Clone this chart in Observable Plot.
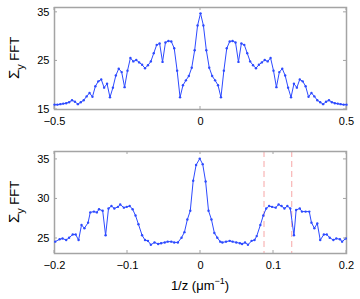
<!DOCTYPE html>
<html><head><meta charset="utf-8">
<script src="https://cdn.jsdelivr.net/npm/d3@7"></script>
<script src="https://cdn.jsdelivr.net/npm/@observablehq/plot@0.6"></script>
<style>
body{margin:0;background:#fff;}
#wrap{position:relative;width:360px;height:299px;}
#wrap svg{position:absolute;left:0;}
</style></head><body><div id="wrap"></div>
<script>
// ---- data ----
const topX = [-0.50,-0.49,-0.48,-0.47,-0.46,-0.45,-0.44,-0.43,-0.42,-0.41,-0.40,-0.39,-0.38,-0.37,-0.36,-0.35,-0.34,-0.33,-0.32,-0.31,-0.30,-0.29,-0.28,-0.27,-0.26,-0.25,-0.24,-0.23,-0.22,-0.21,-0.20,-0.19,-0.18,-0.17,-0.16,-0.15,-0.14,-0.13,-0.12,-0.11,-0.10,-0.09,-0.08,-0.07,-0.06,-0.05,-0.04,-0.03,-0.02,-0.01,0.00,0.01,0.02,0.03,0.04,0.05,0.06,0.07,0.08,0.09,0.10,0.11,0.12,0.13,0.14,0.15,0.16,0.17,0.18,0.19,0.20,0.21,0.22,0.23,0.24,0.25,0.26,0.27,0.28,0.29,0.30,0.31,0.32,0.33,0.34,0.35,0.36,0.37,0.38,0.39,0.40,0.41,0.42,0.43,0.44,0.45,0.46,0.47,0.48,0.49,0.50];
const topY = [16.0,16.0,16.1,16.2,16.3,16.5,16.9,16.6,16.1,16.5,16.9,17.7,18.4,17.6,19.8,20.8,21.2,19.5,20.3,17.5,19.5,22.0,23.4,22.7,19.6,23.0,25.6,24.9,25.2,24.7,24.2,23.5,24.1,24.9,26.6,28.3,28.6,24.8,28.8,29.1,29.0,27.6,23.0,17.5,20.0,21.0,21.9,23.6,27.2,32.3,34.8,32.3,27.2,23.6,21.9,21.0,20.0,17.5,23.0,27.6,29.0,29.1,28.8,24.8,28.6,28.3,26.6,24.9,24.1,23.5,24.2,24.7,25.2,24.9,25.6,23.0,19.6,22.7,23.4,22.0,19.5,17.5,20.3,19.5,21.2,20.8,19.8,17.6,18.4,17.7,16.9,16.5,16.1,16.6,16.9,16.5,16.3,16.2,16.1,16.0,16.0];

const botX = [-0.199,-0.193,-0.189,-0.184,-0.180,-0.175,-0.171,-0.167,-0.163,-0.159,-0.154,-0.151,-0.146,-0.142,-0.139,-0.134,-0.130,-0.126,-0.122,-0.118,-0.113,-0.110,-0.105,-0.101,-0.097,-0.093,-0.089,-0.085,-0.080,-0.076,-0.072,-0.068,-0.063,-0.058,-0.054,-0.049,-0.045,-0.040,-0.036,-0.031,-0.026,-0.022,-0.018,-0.014,-0.010,-0.006,-0.001,0.003,0.007,0.011,0.015,0.019,0.023,0.027,0.030,0.035,0.040,0.044,0.049,0.054,0.057,0.061,0.065,0.070,0.074,0.077,0.082,0.086,0.090,0.094,0.098,0.103,0.107,0.111,0.115,0.119,0.123,0.128,0.131,0.136,0.139,0.144,0.149,0.152,0.156,0.160,0.164,0.169,0.173,0.177,0.182,0.186,0.191,0.194,0.199];
const botY = [24.6,24.9,25.0,24.8,25.1,25.5,25.5,24.8,26.7,26.3,27.0,28.3,28.4,28.3,28.7,28.5,25.4,28.8,29.1,28.8,29.0,29.3,28.9,29.0,29.1,28.7,27.9,26.8,25.4,24.8,24.7,24.2,24.5,24.3,24.4,24.5,24.6,24.6,24.5,24.5,25.1,25.8,27.4,28.5,32.3,34.3,35.1,34.4,32.2,28.5,27.4,25.7,25.1,24.6,24.5,24.6,24.7,24.6,24.5,24.4,24.3,24.5,24.2,24.7,24.8,25.3,26.7,27.9,28.8,29.1,29.0,28.9,29.3,29.1,28.8,29.1,28.8,25.4,28.6,28.8,28.4,28.4,28.4,27.0,26.3,26.9,24.8,25.5,25.5,25.1,24.8,25.0,24.9,24.6,25.0];

const topXTicks = [-0.5, 0, 0.5];
const topYTicks = [15, 25, 35];
const botXTicks = [-0.2, -0.1, 0, 0.1, 0.2];
const botYTicks = [25, 30, 35];
const markerX = [0.087, 0.125];
const yLabelMain = "Σ", yLabelSub = "y", yLabelRest = " FFT";
const xLabelMain = "1/z (μm", xLabelSup = "−1", xLabelEnd = ")";

// ---- style ----
const FONT = '"Liberation Sans", Arial, Helvetica, sans-serif';
const BLUE = "#2d4aff";
const FRAME = "#a4a4a4";
const DASH = "#f7a6a6";

const topData = topX.map((x, i) => ({x, y: topY[i]}));
const botData = botX.map((x, i) => ({x, y: botY[i]}));

function panel({data, height, mt, mb, xdom, ydom, xt, yt, extra = []}) {
  return Plot.plot({
    width: 360, height, marginTop: mt, marginBottom: mb, marginLeft: 54, marginRight: 14,
    style: {fontFamily: FONT, fontSize: "11px", color: "#000", background: "transparent", overflow: "visible"},
    x: {domain: xdom},
    y: {domain: ydom},
    marks: [
      ...extra,
      Plot.frame({stroke: FRAME, strokeWidth: 1.5}),
      Plot.axisX(xt, {tickSize: 0, tickPadding: 8, label: null, fontSize: 11, tickFormat: d3.format("")}),
      Plot.axisY(yt, {tickSize: 0, tickPadding: 5, label: null, fontSize: 11}),
      Plot.line(data, {x: "x", y: "y", stroke: BLUE, strokeWidth: 1}),
      Plot.dot(data, {x: "x", y: "y", r: 1.2, fill: BLUE, stroke: null})
    ]
  });
}

function boxTicks(chart, xt, yt) {
  const sx = chart.scale("x"), sy = chart.scale("y");
  const [x0, x1] = sx.range, [y0, y1] = sy.range;
  const g = d3.select(chart).append("g").attr("stroke", FRAME).attr("stroke-width", 1);
  const L = 3;
  for (const t of xt) {
    const p = sx.apply(t);
    g.append("line").attr("x1", p).attr("x2", p).attr("y1", y0).attr("y2", y0 - L);
    g.append("line").attr("x1", p).attr("x2", p).attr("y1", y1).attr("y2", y1 + L);
  }
  for (const t of yt) {
    const p = sy.apply(t);
    g.append("line").attr("y1", p).attr("y2", p).attr("x1", x0).attr("x2", x0 + L);
    g.append("line").attr("y1", p).attr("y2", p).attr("x1", x1).attr("x2", x1 - L);
  }
  // y label
  const cy = (y0 + y1) / 2;
  const t = d3.select(chart).append("text")
    .attr("transform", `translate(19,${cy}) rotate(-90)`)
    .attr("text-anchor", "middle")
    .attr("font-family", FONT).attr("font-size", 13).attr("fill", "#000");
  t.append("tspan").attr("font-size", 15).text(yLabelMain);
  t.append("tspan").attr("font-size", 11).attr("dy", 5).text(yLabelSub);
  t.append("tspan").attr("dy", -5).text(yLabelRest);
}

const p1 = panel({data: topData, height: 140, mt: 7, mb: 31, xdom: [-0.5, 0.5], ydom: [15, 36], xt: topXTicks, yt: topYTicks});
const p2 = panel({data: botData, height: 159, mt: 11, mb: 46, xdom: [-0.2, 0.2], ydom: [23.1, 36], xt: botXTicks, yt: botYTicks,
  extra: [Plot.ruleX(markerX, {stroke: DASH, strokeWidth: 1, strokeDasharray: "6,4"})]});

boxTicks(p1, topXTicks, topYTicks);
boxTicks(p2, botXTicks, botYTicks);

// x label on bottom panel
const xl = d3.select(p2).append("text")
  .attr("x", 200).attr("y", 150).attr("text-anchor", "middle")
  .attr("font-family", FONT).attr("font-size", 13).attr("fill", "#000");
xl.append("tspan").text(xLabelMain);
xl.append("tspan").attr("font-size", 9).attr("dy", -6).text(xLabelSup);
xl.append("tspan").attr("dy", 6).text(xLabelEnd);

p1.style.top = "0px";
p2.style.top = "140px";
const wrap = document.getElementById("wrap");
wrap.appendChild(p1);
wrap.appendChild(p2);
</script>
</body></html>
